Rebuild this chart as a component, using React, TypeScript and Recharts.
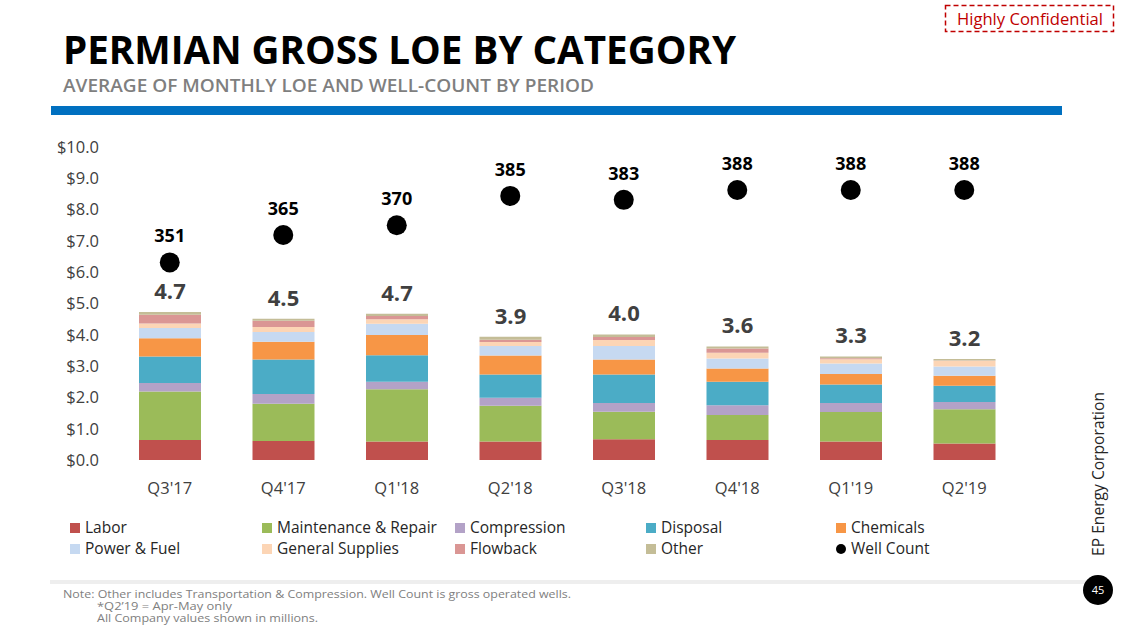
import React from "react";
import { ComposedChart, Bar, Line, XAxis, YAxis, LabelList } from "recharts";

const periods = ["Q3'17", "Q4'17", "Q1'18", "Q2'18", "Q3'18", "Q4'18", "Q1'19", "Q2'19"];
const labor = [0.64, 0.61, 0.59, 0.59, 0.66, 0.64, 0.59, 0.53];
const maintenance = [1.55, 1.19, 1.67, 1.14, 0.88, 0.8, 0.94, 1.09];
const compression = [0.27, 0.31, 0.24, 0.26, 0.28, 0.31, 0.29, 0.23];
const disposal = [0.85, 1.1, 0.85, 0.74, 0.91, 0.75, 0.59, 0.52];
const chemicals = [0.58, 0.57, 0.64, 0.61, 0.48, 0.42, 0.34, 0.32];
const powerFuel = [0.33, 0.31, 0.36, 0.3, 0.43, 0.32, 0.33, 0.3];
const generalSupplies = [0.14, 0.16, 0.15, 0.13, 0.19, 0.19, 0.14, 0.18];
const flowback = [0.28, 0.2, 0.1, 0.07, 0.1, 0.13, 0.03, 0.01];
const other = [0.09, 0.06, 0.07, 0.1, 0.08, 0.07, 0.06, 0.05];
const totals = ["4.7", "4.5", "4.7", "3.9", "4.0", "3.6", "3.3", "3.2"];
const wellCount = [351, 365, 370, 385, 383, 388, 388, 388];
const yTicks = [0, 1, 2, 3, 4, 5, 6, 7, 8, 9, 10];

const series = [
  { key: "labor", name: "Labor", color: "#c0504d", values: labor },
  { key: "maintenance", name: "Maintenance & Repair", color: "#9bbb59", values: maintenance },
  { key: "compression", name: "Compression", color: "#b3a2c7", values: compression },
  { key: "disposal", name: "Disposal", color: "#4bacc6", values: disposal },
  { key: "chemicals", name: "Chemicals", color: "#f79646", values: chemicals },
  { key: "powerFuel", name: "Power & Fuel", color: "#c6d9f1", values: powerFuel },
  { key: "generalSupplies", name: "General Supplies", color: "#fcd5b5", values: generalSupplies },
  { key: "flowback", name: "Flowback", color: "#da9694", values: flowback },
  { key: "other", name: "Other", color: "#c4bd97", values: other },
];

const data = periods.map((p, i) => {
  const row: any = { period: p, wells: wellCount[i] };
  series.forEach((s) => (row[s.key] = s.values[i]));
  return row;
});

const FONT = "'Open Sans', 'Noto Sans', sans-serif";

const TotalLabel = (props: any) => {
  const { x, y, width, index } = props;
  return (
    <text x={x + width / 2} y={y - 13} textAnchor="middle" fontFamily={FONT} fontSize={22} fontWeight={700} fill="#404040">
      {totals[index]}
    </text>
  );
};

const WellLabel = (props: any) => {
  const { x, y, value } = props;
  return (
    <text x={x} y={y - 20} textAnchor="middle" fontFamily={FONT} fontSize={18} fontWeight={700} fill="#000">
      {value}
    </text>
  );
};

const legendCols = [70, 262, 455, 646, 836];
const legendItems = [...series.map((s) => ({ name: s.name, color: s.color, dot: false })), { name: "Well Count", color: "#000", dot: true }];

export default function App() {
  return (
    <div style={{ position: "absolute", left: 0, top: 0, width: 1128, height: 635, background: "#fff", overflow: "hidden", fontFamily: FONT }}>
      <svg width={1128} height={635} style={{ position: "absolute", left: 0, top: 0 }}>
        <rect x={945.5} y={5.5} width={168} height={26} fill="none" stroke="#c00000" strokeWidth={1.5} strokeDasharray="5 3" />
        <text x={1030} y={25} textAnchor="middle" fontFamily={FONT} fontSize={16} fill="#c00000" textLength={146} lengthAdjust="spacingAndGlyphs">Highly Confidential</text>
        <text x={63} y={64} fontFamily={FONT} fontSize={39} fontWeight={700} fill="#000" textLength={673} lengthAdjust="spacingAndGlyphs">PERMIAN GROSS LOE BY CATEGORY</text>
        <text x={63} y={92} fontFamily={FONT} fontSize={18} fontWeight={600} fill="#7f7f7f" textLength={531} lengthAdjust="spacingAndGlyphs">AVERAGE OF MONTHLY LOE AND WELL-COUNT BY PERIOD</text>
        <rect x={51} y={106} width={1011} height={9} fill="#0070c0" />
        <rect x={50} y={580} width={1040} height={4} fill="#eeeeee" />
        <text transform="translate(1104,556) rotate(-90)" fontFamily={FONT} fontSize={16} fill="#262626" textLength={164} lengthAdjust="spacingAndGlyphs">EP Energy Corporation</text>
        <circle cx={1098} cy={590} r={15} fill="#000" />
        <text x={1098} y={594} textAnchor="middle" fontFamily={FONT} fontSize={11} fill="#fff">45</text>
        <text x={63} y={598} fontFamily={FONT} fontSize={10.5} fill="#808080" textLength={508} lengthAdjust="spacingAndGlyphs">Note: Other includes Transportation &amp; Compression. Well Count is gross operated wells.</text>
        <text x={97} y={610} fontFamily={FONT} fontSize={10.5} fill="#808080" textLength={135} lengthAdjust="spacingAndGlyphs">*Q2’19 = Apr-May only</text>
        <text x={97} y={622} fontFamily={FONT} fontSize={10.5} fill="#808080" textLength={221} lengthAdjust="spacingAndGlyphs">All Company values shown in millions.</text>
        {legendItems.map((it, i) => {
          const col = i % 5;
          const row = Math.floor(i / 5);
          const x = legendCols[col];
          const cy = 528 + row * 21;
          return (
            <g key={it.name}>
              {it.dot ? (
                <circle cx={x + 5} cy={cy} r={5} fill={it.color} />
              ) : (
                <rect x={x} y={cy - 5} width={10} height={10} fill={it.color} />
              )}
              <text x={x + 15} y={cy + 5} fontFamily={FONT} fontSize={15.5} fill="#262626">{it.name}</text>
            </g>
          );
        })}
      </svg>
      <div style={{ position: "absolute", left: 0, top: 0 }}>
        <ComposedChart width={1128} height={500} data={data} margin={{ top: 147, right: 107, bottom: 10, left: 0 }} barCategoryGap={0}>
          <XAxis dataKey="period" axisLine={false} tickLine={false} height={30} tickMargin={16} tick={{ fontFamily: FONT, fontSize: 16.5, fill: "#404040" }} />
          <YAxis yAxisId="left" domain={[0, 10]} ticks={yTicks} width={113} axisLine={false} tickLine={false} tickMargin={8}
            tickFormatter={(v: number) => `$${v.toFixed(1)}`} tick={{ fontFamily: FONT, fontSize: 16.5, fill: "#404040" }} />
          <YAxis yAxisId="right" orientation="right" domain={[250, 410]} hide />
          {series.map((s, i) => (
            <Bar key={s.key} yAxisId="left" dataKey={s.key} name={s.name} stackId="loe" fill={s.color} barSize={62} isAnimationActive={false}>
              {i === series.length - 1 && <LabelList dataKey="other" content={TotalLabel} />}
            </Bar>
          ))}
          <Line yAxisId="right" dataKey="wells" name="Well Count" stroke="none" isAnimationActive={false}
            dot={{ r: 10, fill: "#000", stroke: "#000", strokeWidth: 0 }} activeDot={false}>
            <LabelList dataKey="wells" content={WellLabel} />
          </Line>
        </ComposedChart>
      </div>
    </div>
  );
}
